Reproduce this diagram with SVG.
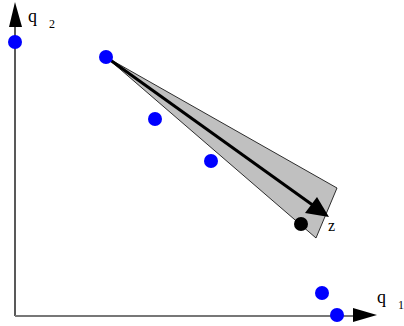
<svg xmlns="http://www.w3.org/2000/svg" width="404" height="326" viewBox="0 0 404 326">
<style>
.pt{fill:#0000ff}
.lbl{font-family:"Liberation Serif",serif;fill:#000}
</style>
<rect width="404" height="326" fill="#fff"/>
<g id="axes">
<line x1="15" y1="316" x2="15" y2="25" stroke="#222" stroke-width="1.5"/>
<polygon points="15,2 9,27 22,27" fill="#000"/>
<line x1="15" y1="316" x2="356" y2="316" stroke="#777" stroke-width="1.8"/>
<polygon points="377,315 353,308 353,322" fill="#000"/>
</g>
<g id="wedge">
<polygon points="106,57 337,188 316,238" fill="#c0c0c0" stroke="#000" stroke-width="0.8"/>
</g>
<g id="connectors">
<line x1="106" y1="57" x2="314" y2="206" stroke="#000" stroke-width="3"/>
<polygon points="329,217 305,213 317,197" fill="#000"/>
</g>
<g id="points">
<circle class="pt" cx="15" cy="42" r="7"/>
<circle class="pt" cx="106" cy="57" r="7"/>
<circle class="pt" cx="155" cy="119" r="7"/>
<circle class="pt" cx="211" cy="161" r="7"/>
<circle class="pt" cx="322" cy="293" r="7"/>
<circle class="pt" cx="337" cy="315" r="7"/>
<circle cx="301" cy="224" r="7" fill="#000"/>
</g>
<g id="labels">
<text class="lbl" x="28" y="22" font-size="18">q</text>
<text class="lbl" x="49" y="28" font-size="12">2</text>
<text class="lbl" x="377" y="303" font-size="18">q</text>
<text class="lbl" x="398" y="309" font-size="12">1</text>
<text class="lbl" x="328" y="231" font-size="16">z</text>
</g>
</svg>
